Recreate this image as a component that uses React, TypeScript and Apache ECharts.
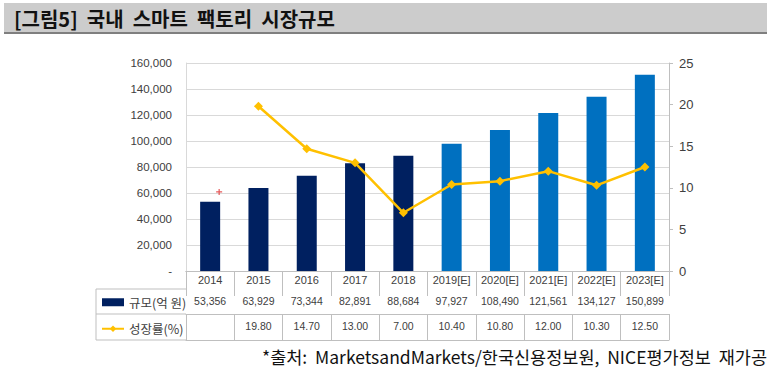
import React, { useEffect, useRef } from "react";
import * as echarts from "echarts";

const categories = ["2014", "2015", "2016", "2017", "2018", "2019[E]", "2020[E]", "2021[E]", "2022[E]", "2023[E]"];
const marketSize = [53356, 63929, 73344, 82891, 88684, 97927, 108490, 121561, 134127, 150899];
const growthRate: (number | null)[] = [null, 19.8, 14.7, 13.0, 7.0, 10.4, 10.8, 12.0, 10.3, 12.5];
const strayMark = [[0, 9.5]];
const seriesNames = ["규모(억 원)", "성장률(%)"];
const titleText = "[그림5]  국내  스마트  팩토리  시장규모";
const sourceText = "*출처:  MarketsandMarkets/한국신용정보원,  NICE평가정보  재가공";

const ACTUAL = "#002060";
const ESTIMATE = "#0070C0";
const LINE = "#FFC000";
const GRID = "#D9D9D9";
const BORDER = "#BFBFBF";
const TXT = "#404040";
const NUMFONT = "'Liberation Sans', sans-serif";
const KRFONT = "'Noto Sans CJK KR', sans-serif";

const fmt = (v: number) => v.toLocaleString("en-US");

export default function App() {
  const ref = useRef<HTMLDivElement>(null);
  useEffect(() => {
    if (!ref.current) return;
    const chart = echarts.init(ref.current, undefined, { renderer: "svg" });
    const tableLabel = (margin: number, size: number) => ({
      interval: 0,
      margin,
      fontSize: size,
      color: TXT,
      fontFamily: NUMFONT,
    });
    chart.setOption({
      animation: false,
      backgroundColor: "#ffffff",
      grid: { left: 186, right: 104, top: 63, bottom: 106, containLabel: false },
      legend: {
        orient: "vertical",
        left: 96,
        top: 291,
        itemWidth: 22,
        itemHeight: 8,
        itemGap: 14,
        data: [{ name: seriesNames[0], icon: "rect" }, { name: seriesNames[1] }],
        textStyle: { fontSize: 12.5, color: TXT, fontFamily: KRFONT },
        selectedMode: false,
      },
      xAxis: [
        {
          type: "category",
          data: categories,
          position: "bottom",
          offset: 0,
          axisLine: { show: true, lineStyle: { color: BORDER } },
          axisTick: { show: true, interval: 0, length: 18, lineStyle: { color: BORDER } },
          axisLabel: tableLabel(3.5, 11),
        },
        {
          type: "category",
          data: marketSize.map(fmt),
          position: "bottom",
          offset: 18,
          axisLine: { show: true, lineStyle: { color: BORDER } },
          axisTick: { show: true, interval: 0, length: 25, lineStyle: { color: BORDER } },
          axisLabel: tableLabel(6.5, 10.5),
        },
        {
          type: "category",
          data: growthRate.map((v) => (v == null ? "" : v.toFixed(2))),
          position: "bottom",
          offset: 43,
          axisLine: { show: true, lineStyle: { color: BORDER } },
          axisTick: { show: true, interval: 0, length: 26, lineStyle: { color: BORDER } },
          axisLabel: tableLabel(6.5, 10.5),
        },
        {
          type: "category",
          data: categories,
          position: "bottom",
          offset: 69,
          axisLine: { show: true, lineStyle: { color: BORDER } },
          axisTick: { show: false },
          axisLabel: { show: false },
        },
      ],
      yAxis: [
        {
          type: "value",
          min: 0,
          max: 160000,
          interval: 20000,
          axisLine: { show: true, lineStyle: { color: GRID } },
          axisTick: { show: false },
          splitLine: { lineStyle: { color: GRID } },
          axisLabel: {
            margin: 14,
            fontSize: 11.5,
            color: TXT,
            fontFamily: NUMFONT,
            formatter: (v: number) => (v === 0 ? "-" : fmt(v)),
          },
        },
        {
          type: "value",
          min: 0,
          max: 25,
          interval: 5,
          position: "right",
          axisLine: { show: true, lineStyle: { color: BORDER } },
          axisTick: { show: true, length: 4, lineStyle: { color: BORDER } },
          splitLine: { show: false },
          axisLabel: { margin: 10, fontSize: 13, color: TXT, fontFamily: NUMFONT },
        },
      ],
      series: [
        {
          name: seriesNames[0],
          type: "bar",
          barWidth: 20,
          xAxisIndex: 0,
          yAxisIndex: 0,
          itemStyle: { color: ACTUAL },
          data: marketSize.map((v, i) => ({
            value: v,
            itemStyle: { color: categories[i].includes("[E]") ? ESTIMATE : ACTUAL },
          })),
        },
        {
          name: seriesNames[1],
          type: "line",
          xAxisIndex: 0,
          yAxisIndex: 1,
          data: growthRate,
          symbol: "diamond",
          symbolSize: 9,
          lineStyle: { color: LINE, width: 2.5 },
          itemStyle: { color: LINE },
          z: 5,
        },
        {
          name: "mark",
          type: "scatter",
          xAxisIndex: 0,
          yAxisIndex: 1,
          data: strayMark,
          symbol: "path://M2,0H3V2H5V3H3V5H2V3H0V2H2Z",
          symbolSize: 6,
          symbolOffset: [9, 0],
          itemStyle: { color: "#E03030" },
          z: 6,
        },
      ],
      graphic: [
        { type: "rect", shape: { x: 4, y: 3, width: 763, height: 30 }, style: { fill: "#CCCCCC" }, z: 0 },
        { type: "line", shape: { x1: 4, y1: 33, x2: 767, y2: 33 }, style: { stroke: "#7F7F7F", lineWidth: 2 } },
        {
          type: "text",
          x: 14,
          y: 18,
          style: {
            text: titleText,
            font: `bold 20px ${KRFONT}`,
            fill: "#111111",
            textVerticalAlign: "middle",
          },
        },
        { type: "line", shape: { x1: 96, y1: 289, x2: 186, y2: 289 }, style: { stroke: BORDER, lineWidth: 1 } },
        { type: "line", shape: { x1: 96, y1: 314, x2: 186, y2: 314 }, style: { stroke: BORDER, lineWidth: 1 } },
        { type: "line", shape: { x1: 96, y1: 340, x2: 186, y2: 340 }, style: { stroke: BORDER, lineWidth: 1 } },
        { type: "line", shape: { x1: 96, y1: 289, x2: 96, y2: 340 }, style: { stroke: BORDER, lineWidth: 1 } },
        {
          type: "text",
          right: 6,
          y: 356,
          style: {
            text: sourceText,
            font: `17.5px ${KRFONT}`,
            fill: "#111111",
            textVerticalAlign: "middle",
          },
        },
      ],
    });
    return () => chart.dispose();
  }, []);
  return <div ref={ref} style={{ position: "fixed", left: 0, top: 0, width: 773, height: 377 }} />;
}
